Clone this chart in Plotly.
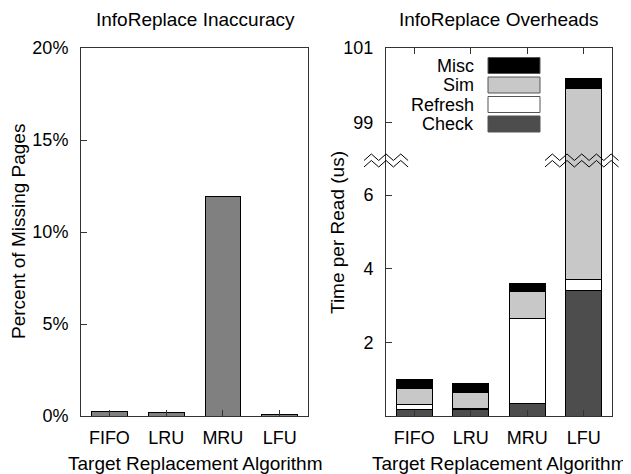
import plotly.graph_objects as go

# ---- data ----
algorithms = ["FIFO", "LRU", "MRU", "LFU"]
missing_pct = [0.22, 0.20, 11.94, 0.06]

check = [0.18, 0.17, 0.34, 3.41]
refresh = [0.14, 0.04, 2.31, 0.30]
sim = [0.43, 0.42, 0.72, 96.21]
misc = [0.23, 0.24, 0.22, 0.25]

left_yticks = [0, 5, 10, 15, 20]
left_yticklabels = ["0%", "5%", "10%", "15%", "20%"]
lower_yticks = [2, 4, 6]
upper_yticks = [99, 101]

series = [("Check", check, "#4d4d4d"),
          ("Refresh", refresh, "#ffffff"),
          ("Sim", sim, "#c8c8c8"),
          ("Misc", misc, "#000000")]

# The page body has an 8px default margin; size the figure to fill the rest.
OFF = 8
W, H = 631 - OFF, 474 - OFF
def px(x):
    return (x - OFF) / W
def py(y):
    return 1 - (y - OFF) / H

FONT = "Liberation Sans, Arial, Helvetica, sans-serif"
AX = "#333333"

x1dom = [px(81), px(308)]
x2dom = [px(386), px(612)]
ybot, ytop, ybrk = py(416), py(48), py(163)

fig = go.Figure()

fig.add_trace(go.Bar(x=algorithms, y=missing_pct, width=0.63,
                     marker=dict(color="#808080", line=dict(color="#000000", width=1)),
                     xaxis="x", yaxis="y", showlegend=False))

for name, vals, col in series:
    for xa, ya in (("x2", "y2"), ("x3", "y3")):
        fig.add_trace(go.Bar(x=algorithms, y=vals, width=0.63, name=name,
                             marker=dict(color=col, line=dict(color="#000000", width=1)),
                             xaxis=xa, yaxis=ya, showlegend=False))

common_x = dict(type="category", categoryorder="array", categoryarray=algorithms,
                range=[-0.5, 3.5], ticks="inside", ticklen=6, tickcolor=AX,
                showline=True, linecolor=AX, linewidth=1, showgrid=False,
                zeroline=False, automargin=False,
                tickfont=dict(family=FONT, size=18, color="#000"))
common_y = dict(ticks="inside", ticklen=6, tickcolor=AX, showline=True, linecolor=AX,
                linewidth=1, showgrid=False, zeroline=False, mirror=True, automargin=False,
                tickfont=dict(family=FONT, size=18, color="#000"), ticklabelstandoff=8)

fig.update_layout(
    template="none",
    width=W, height=H, autosize=False,
    margin=dict(l=0, r=0, t=0, b=0, pad=0, autoexpand=False),
    paper_bgcolor="white", plot_bgcolor="white", barmode="stack", showlegend=False,
    font=dict(family=FONT, size=18, color="#000"),
    xaxis=dict(common_x, domain=x1dom, anchor="y", mirror=True, ticklabelstandoff=5),
    yaxis=dict(common_y, domain=[ybot, ytop], anchor="x", range=[0, 20],
               tickvals=left_yticks, ticktext=left_yticklabels),
    xaxis2=dict(common_x, domain=x2dom, anchor="y2", ticklabelstandoff=5),
    xaxis3=dict(common_x, domain=x2dom, anchor="y3", side="top", showticklabels=False),
    yaxis2=dict(common_y, domain=[ybot, ybrk], anchor="x2", range=[0, 6.87],
                tickvals=lower_yticks),
    yaxis3=dict(common_y, domain=[ybrk, ytop], anchor="x3", range=[97.9, 101],
                tickvals=upper_yticks),
)

ann = []
def text(x, y, s, size=19, angle=0, xanchor="center"):
    ann.append(dict(x=px(x), y=py(y), xref="paper", yref="paper", text=s, showarrow=False,
                    textangle=angle, xanchor=xanchor, yanchor="middle",
                    font=dict(family=FONT, size=size, color="#000")))

text(195, 19, "InfoReplace Inaccuracy")
text(499, 19, "InfoReplace Overheads")
text(195, 463, "Target Replacement Algorithm")
text(499, 463, "Target Replacement Algorithm")
text(19, 232, "Percent of Missing Pages", angle=-90)
text(337, 233, "Time per Read (us)", angle=-90)

shapes = []
# manual legend (text left of swatch)
leg_rows = [("Misc", "#000000"), ("Sim", "#c8c8c8"), ("Refresh", "#ffffff"), ("Check", "#4d4d4d")]
for i, (name, col) in enumerate(leg_rows):
    top = 57.5 + i * 19.5
    shapes.append(dict(type="rect", xref="paper", yref="paper",
                       x0=px(488), x1=px(540), y0=py(top + 16), y1=py(top),
                       fillcolor=col, line=dict(color="#555555", width=1)))
    text(476, top + 8, name, size=18, xanchor="right")

# broken-axis zigzag marks
def zigzag(x0, npk, y_low, y_high, period=14.7):
    pts = []
    for k in range(2 * npk + 1):
        pts.append((x0 + k * period / 2, y_low if k % 2 == 0 else y_high))
    return "M " + " L ".join(f"{px(a):.5f},{py(b):.5f}" for a, b in pts)

for x0, npk in ((364, 3), (545, 5)):
    for off in (0, 6.5):
        shapes.append(dict(type="path", xref="paper", yref="paper",
                           path=zigzag(x0, npk, 160.5 + off, 154 + off),
                           line=dict(color="#000000", width=1)))

fig.update_layout(annotations=ann, shapes=shapes)
fig.write_html("out.html")
